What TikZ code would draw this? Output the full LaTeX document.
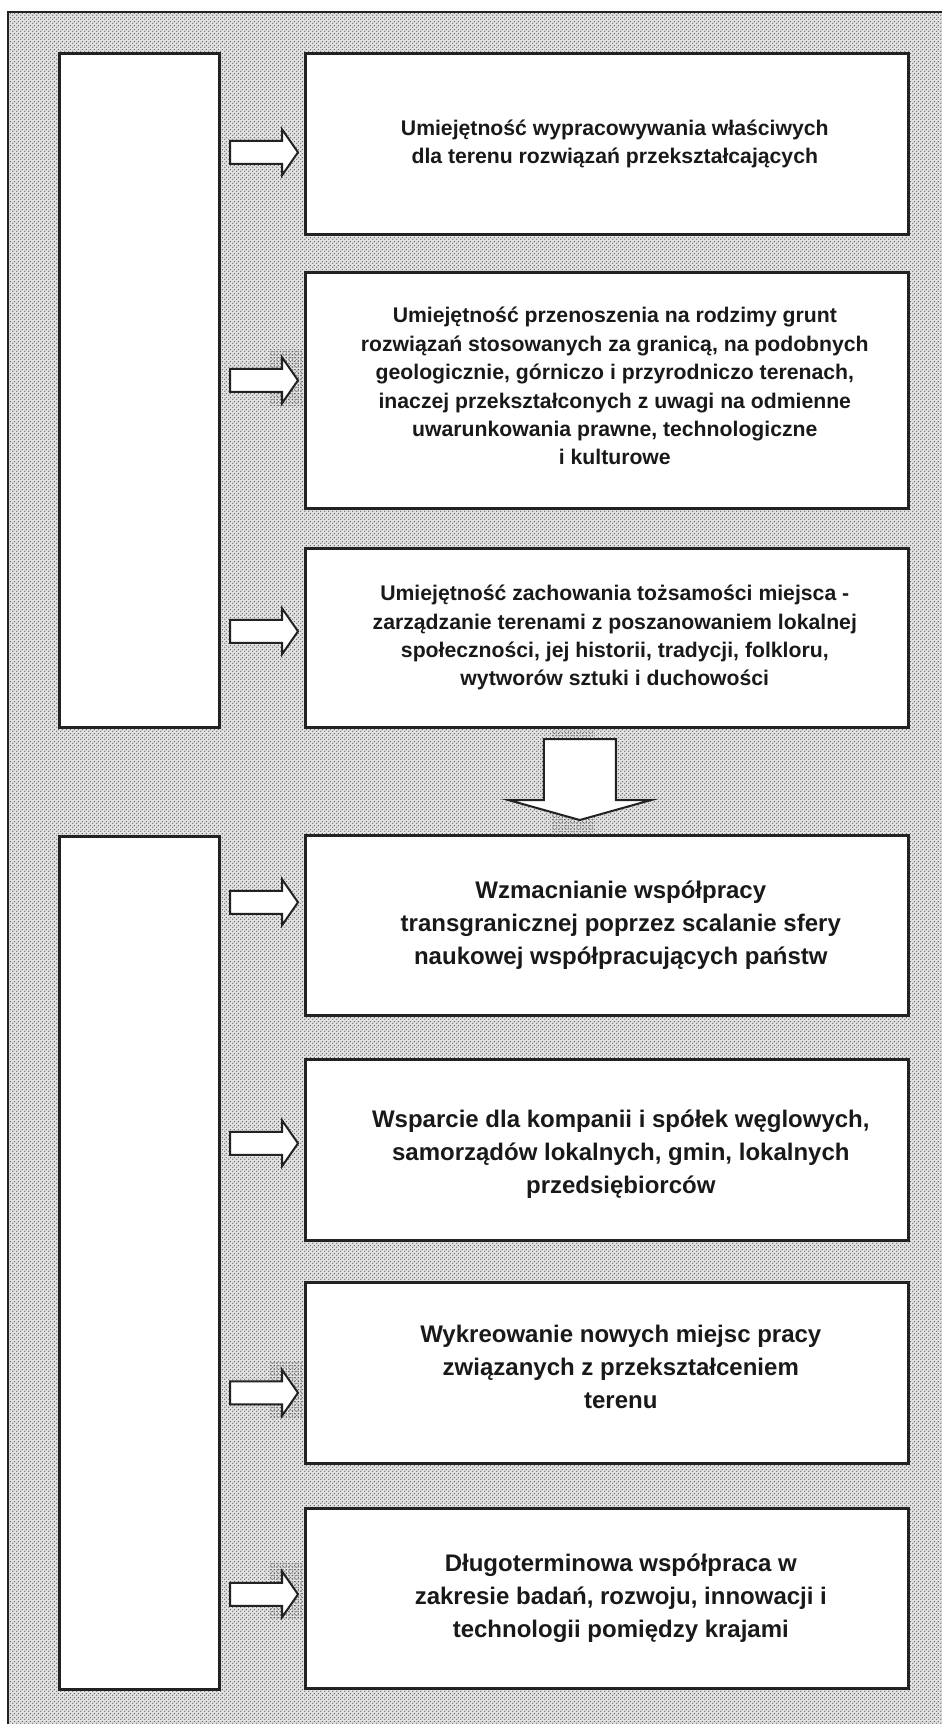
\documentclass[tikz,border=0pt]{standalone}
\usepackage{fontspec}
\setmainfont{Liberation Sans}
\usetikzlibrary{patterns,calc}
\pgfdeclarepatternformonly{bgdots}{\pgfpointorigin}{\pgfqpoint{4pt}{4pt}}{\pgfqpoint{4pt}{4pt}}{%
 \pgfpathcircle{\pgfqpoint{1pt}{1pt}}{0.85pt}%
 \pgfpathcircle{\pgfqpoint{3pt}{3pt}}{0.85pt}%
 \pgfusepath{fill}}
\pgfdeclarepatternformonly{shadedots}{\pgfpointorigin}{\pgfqpoint{3pt}{3pt}}{\pgfqpoint{3pt}{3pt}}{%
 \pgfpathcircle{\pgfqpoint{1.5pt}{1.5pt}}{0.9pt}%
 \pgfusepath{fill}}
\definecolor{edge}{HTML}{222222}
\definecolor{dotc}{HTML}{5E5E5E}
\definecolor{bgc}{HTML}{E2E2E2}
\begin{document}
\begin{tikzpicture}[x=1pt,y=-1pt,
  panel/.style={draw=edge, line width=2.6pt, fill=white, inner sep=0pt, anchor=north west},
  upper/.style={font=\fontsize{21.2}{28.4}\selectfont\bfseries, align=center, text=black!90},
  lower/.style={font=\fontsize{24}{33}\selectfont\bfseries, align=center, text=black!90},
  blk/.style={draw=edge, line width=2pt, fill=white, line join=miter},
  shadow/.style={pattern=shadedots, pattern color=black!75},
  rarr/.pic={\draw[blk] (0,0) -- (-16,-23) -- (-16,-11.5) -- (-68,-11.5) -- (-68,11.5) -- (-16,11.5) -- (-16,23) -- cycle;},
  rshadow/.pic={\fill[shadow] (-28,-31) rectangle (5,25);},
  darr/.pic={\draw[blk] (0,0) -- (-71.5,-20) -- (-36,-20) -- (-36,-81) -- (36,-81) -- (36,-20) -- (71.5,-20) -- cycle;},
  dshadow/.pic={\fill[shadow] (-29,-90) rectangle (15,14);}
]
\useasboundingbox (0,0) rectangle (942,1724);
\fill[white] (0,0) rectangle (942,1724);
\fill[bgc] (8,12) rectangle (942,1724);
\fill[pattern=bgdots, pattern color=dotc] (8,12) rectangle (942,1724);
\draw[edge, line width=2.6pt] (8,1724) -- (8,12) -- (942,12);

\node[panel, minimum width=160pt, minimum height=674pt] (la) at (58,52) {};
\node[panel, minimum width=160pt, minimum height=853pt] (lb) at (58,835) {};

\node[panel, minimum width=603pt, minimum height=181pt] (r1) at (304,52) {};
\node[panel, minimum width=603pt, minimum height=236pt] (r2) at (304,271) {};
\node[panel, minimum width=603pt, minimum height=179pt] (r3) at (304,547) {};
\node[panel, minimum width=603pt, minimum height=180pt] (r4) at (304,834) {};
\node[panel, minimum width=603pt, minimum height=181pt] (r5) at (304,1058) {};
\node[panel, minimum width=603pt, minimum height=181pt] (r6) at (304,1281) {};
\node[panel, minimum width=603pt, minimum height=180pt] (r7) at (304,1507) {};

\node[upper] (t1) at ($(r1.center)+(8,0)$) {Umiejętność wypracowywania właściwych\\dla terenu rozwiązań przekształcających};
\node[upper] (t2) at ($(r2.center)+(8,-4)$) {Umiejętność przenoszenia na rodzimy grunt\\rozwiązań stosowanych za granicą, na podobnych\\geologicznie, górniczo i przyrodniczo terenach,\\inaczej przekształconych z uwagi na odmienne\\uwarunkowania prawne, technologiczne\\i kulturowe};
\node[upper] (t3) at ($(r3.center)+(8,0)$) {Umiejętność zachowania tożsamości miejsca -\\zarządzanie terenami z poszanowaniem lokalnej\\społeczności, jej historii, tradycji, folkloru,\\wytworów sztuki i duchowości};
\node[lower] (t4) at ($(r4.center)+(14,0)$) {Wzmacnianie współpracy\\transgranicznej poprzez scalanie sfery\\naukowej współpracujących państw};
\node[lower] (t5) at ($(r5.center)+(14,4)$) {Wsparcie dla kompanii i spółek węglowych,\\samorządów lokalnych, gmin, lokalnych\\przedsiębiorców};
\node[lower] (t6) at ($(r6.center)+(14,-6)$) {Wykreowanie nowych miejsc pracy\\związanych z przekształceniem\\terenu};
\node[lower] (t7) at ($(r7.center)+(14,0)$) {Długoterminowa współpraca w\\zakresie badań, rozwoju, innowacji i\\technologii pomiędzy krajami};

\pic at ($(r2.west)+(-6,-10)$) {rshadow};
\pic at ($(r6.west)+(-6,20)$) {rshadow};
\pic at ($(r7.west)+(-6,-4)$) {rshadow};
\pic at ($(r4.north)+(-27,-14)$) {dshadow};

\pic at ($(r1.west)+(-6,8.5)$) {rarr};
\pic at ($(r2.west)+(-6,-10)$) {rarr};
\pic at ($(r3.west)+(-6,-6.5)$) {rarr};
\pic at ($(r4.west)+(-6,-23)$) {rarr};
\pic at ($(r5.west)+(-6,-6.5)$) {rarr};
\pic at ($(r6.west)+(-6,20)$) {rarr};
\pic at ($(r7.west)+(-6,-4)$) {rarr};
\pic at ($(r4.north)+(-27,-14)$) {darr};
\end{tikzpicture}
\end{document}
